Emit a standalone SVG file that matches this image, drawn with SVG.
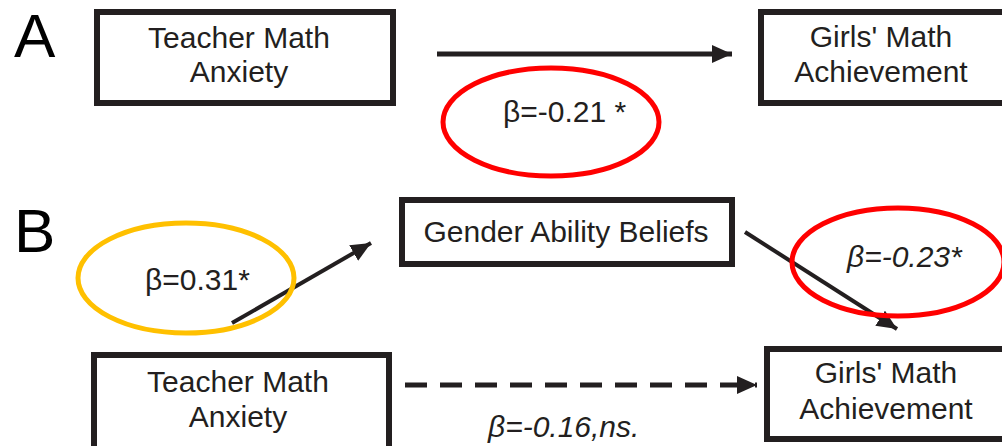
<svg xmlns="http://www.w3.org/2000/svg" width="1002" height="446" viewBox="0 0 1002 446">
<style>
.box{fill:#fff;stroke:#231f20;stroke-width:6}
.t{font-family:"Liberation Sans",Arial,sans-serif;font-size:30px;fill:#231f20;text-anchor:middle}
.lab{font-family:"Liberation Sans",Arial,sans-serif;font-size:62px;fill:#000}
.c{stroke:#231f20;fill:none}
.co{font-family:"Liberation Sans",Arial,sans-serif;font-size:30px;fill:#231f20}
.ring{fill:none;stroke-width:5}
</style>
<defs>
<marker id="ah" markerUnits="userSpaceOnUse" markerWidth="24" markerHeight="20" refX="20" refY="9" orient="auto">
<path d="M0,0 L20,9 L0,18 z" fill="#231f20"/>
</marker>
</defs>
<text class="lab" x="14" y="57">A</text>
<text class="lab" x="14" y="252">B</text>
<g id="a-teacher">
<rect class="box" x="97" y="12" width="296" height="91"/>
<text class="t" x="239" y="48">Teacher Math</text>
<text class="t" x="239" y="82">Anxiety</text>
</g>
<g id="a-girls">
<rect class="box" x="761" y="12" width="244" height="91"/>
<text class="t" x="881" y="47">Girls' Math</text>
<text class="t" x="881" y="82">Achievement</text>
</g>
<g id="b-gender">
<rect class="box" x="402" y="200" width="330" height="64"/>
<text class="t" x="566" y="242">Gender Ability Beliefs</text>
</g>
<g id="b-teacher">
<rect class="box" x="94" y="355" width="295" height="94"/>
<text class="t" x="238" y="392">Teacher Math</text>
<text class="t" x="238" y="427">Anxiety</text>
</g>
<g id="b-girls">
<rect class="box" x="767" y="349" width="240" height="90"/>
<text class="t" x="886" y="383">Girls' Math</text>
<text class="t" x="886" y="419">Achievement</text>
</g>
<g id="connectors">
<line class="c" x1="437" y1="54" x2="732" y2="54" stroke-width="5" marker-end="url(#ah)"/>
<line class="c" x1="232" y1="323" x2="371" y2="243" stroke-width="4" marker-end="url(#ah)"/>
<line class="c" x1="745" y1="232" x2="897" y2="329" stroke-width="4" marker-end="url(#ah)"/>
<line class="c" x1="405" y1="385" x2="757" y2="385" stroke-width="5" stroke-dasharray="22 13" marker-end="url(#ah)"/>
</g>
<g id="labels">
<ellipse class="ring" cx="551" cy="122" rx="108" ry="54" stroke="#ff0000"/>
<text class="co" x="503" y="122">β=-0.21 *</text>
<ellipse class="ring" cx="186" cy="278" rx="108" ry="55" stroke="#ffc000"/>
<text class="co" x="145" y="290">β=0.31*</text>
<ellipse class="ring" cx="898" cy="262" rx="106" ry="54" stroke="#ff0000"/>
<text class="co" x="847" y="267" font-style="italic">β=-0.23*</text>
<text class="co" x="488" y="437" font-style="italic">β=-0.16,ns.</text>
</g>
</svg>
